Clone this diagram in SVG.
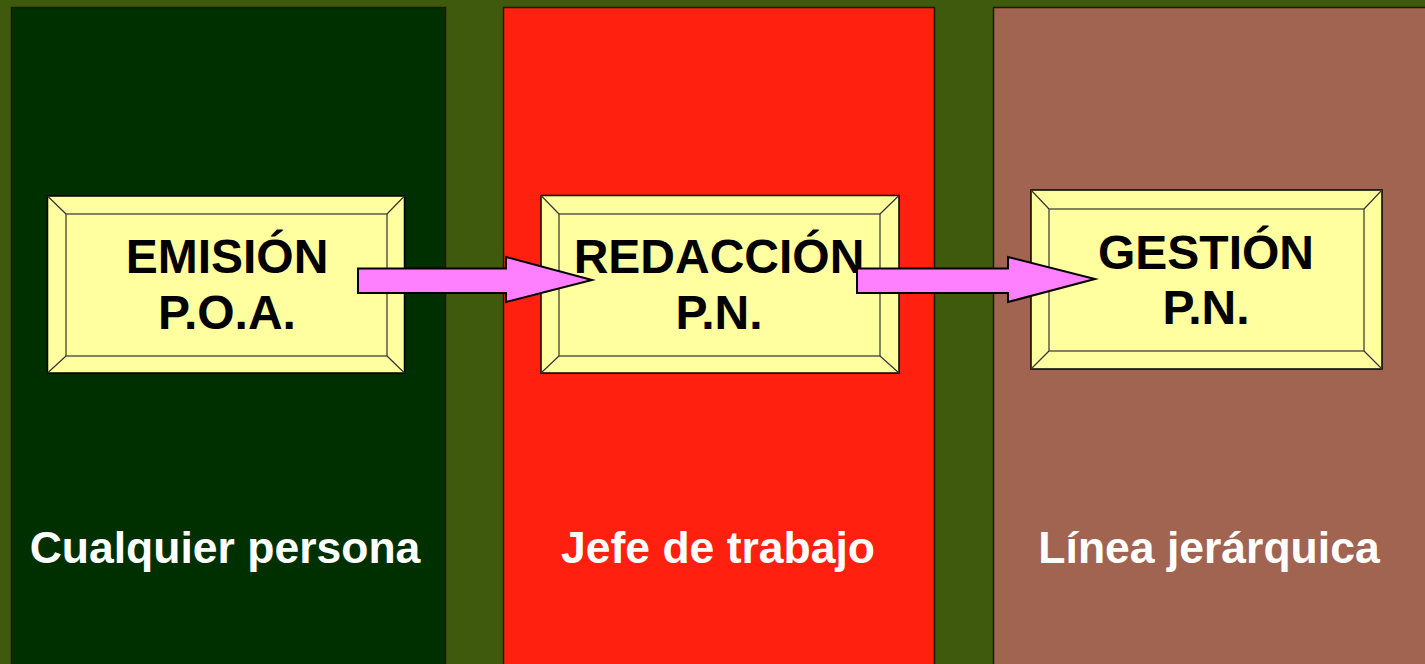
<svg xmlns="http://www.w3.org/2000/svg" width="1425" height="664" viewBox="0 0 1425 664">
<style>
.lane{stroke:#1a1a00;stroke-width:1.5}
.box{fill:#FFFFA0;stroke:#000;stroke-width:1.5}
.bev{fill:none;stroke:#333;stroke-width:1.2}
.t{font-family:"Liberation Sans",Arial,sans-serif;font-weight:bold;text-anchor:middle}
.tb{font-size:48px;fill:#000}
.tl{font-size:44.5px;fill:#fff}
.arr{fill:#FF80FF;stroke:#000;stroke-width:2;stroke-linejoin:miter}
</style>
<rect width="1425" height="664" fill="#3F5A0D"/>
<g id="lane1"><rect class="lane" x="11.5" y="7.5" width="434" height="670" fill="#003000"/>
<text class="t tl" x="225" y="563">Cualquier persona</text></g>
<g id="lane2"><rect class="lane" x="503.5" y="7.5" width="431" height="670" fill="#FF2010"/>
<text class="t tl" x="718" y="563">Jefe de trabajo</text></g>
<g id="lane3"><rect class="lane" x="993.5" y="7.5" width="440" height="670" fill="#A06450"/>
<text class="t tl" x="1209" y="563">Línea jerárquica</text></g>
<g id="box1">
<rect class="box" x="47.5" y="196" width="357" height="177"/>
<rect class="bev" x="66" y="214" width="321" height="142"/>
<path class="bev" d="M47.5 196L66 214M404.5 196L387 214M47.5 373L66 356M404.5 373L387 356"/>
<text class="t tb" x="227" y="273">EMISIÓN</text>
<text class="t tb" x="227" y="329">P.O.A.</text>
</g>
<g id="box2">
<rect class="box" x="541" y="195.5" width="358" height="177.5"/>
<rect class="bev" x="559" y="214" width="321" height="142"/>
<path class="bev" d="M541 195.5L559 214M899 195.5L880 214M541 373L559 356M899 373L880 356"/>
<text class="t tb" x="719" y="273">REDACCIÓN</text>
<text class="t tb" x="719" y="329">P.N.</text>
</g>
<g id="box3">
<rect class="box" x="1031" y="190" width="351" height="179"/>
<rect class="bev" x="1049" y="209" width="315" height="142"/>
<path class="bev" d="M1031 190L1049 209M1382 190L1364 209M1031 369L1049 351M1382 369L1364 351"/>
<text class="t tb" x="1206" y="269">GESTIÓN</text>
<text class="t tb" x="1206" y="324">P.N.</text>
</g>
<g id="connectors">
<path class="arr" d="M358 268.5H506V257L592 280L506 302V293H358Z"/>
<path class="arr" d="M857 268.5H1008V257L1095 279L1008 302V293H857Z"/>
</g>
</svg>
